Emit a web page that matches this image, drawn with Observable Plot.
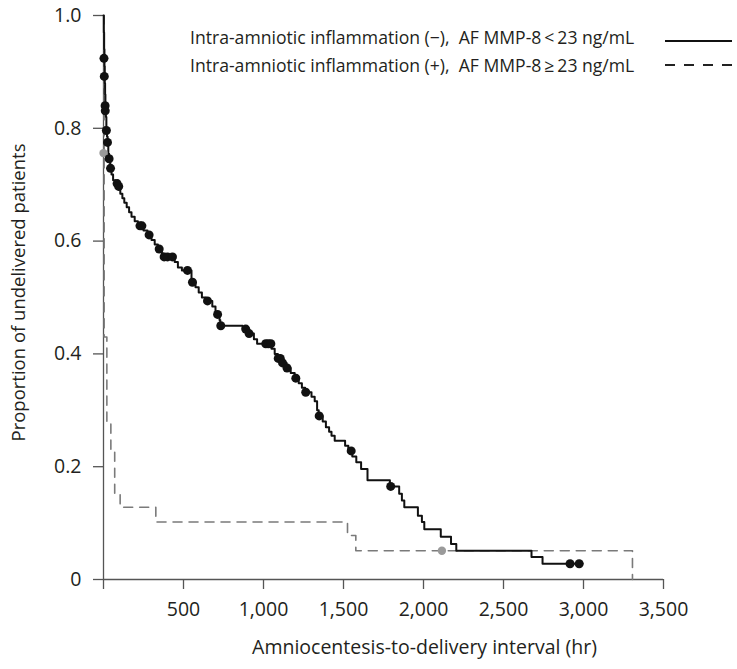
<!DOCTYPE html>
<html>
<head>
<meta charset="utf-8">
<script src="https://cdn.jsdelivr.net/npm/d3@7"></script>
<script src="https://cdn.jsdelivr.net/npm/@observablehq/plot@0.6"></script>
<style>
  html, body { margin: 0; padding: 0; background: #fff; }
  #chart { width: 737px; height: 669px; }
</style>
</head>
<body>
<div id="chart"></div>
<script>
// ---- Data ----
// Intra-amniotic inflammation (−): Kaplan–Meier steps (time in hr, proportion undelivered)
const negTime = [0, 2, 4, 6, 8, 10, 12, 15, 18, 22, 26, 30, 35, 42, 50, 60, 75, 92, 105, 118, 130, 145, 160, 175, 195, 215, 250, 275, 300, 320, 340, 365, 375, 445, 465, 490, 550, 575, 595, 615, 640, 680, 700, 725, 730, 870, 900, 940, 960, 1050, 1070, 1090, 1115, 1145, 1170, 1195, 1220, 1240, 1260, 1300, 1320, 1335, 1345, 1370, 1390, 1410, 1425, 1445, 1510, 1530, 1555, 1580, 1610, 1650, 1790, 1848, 1865, 1880, 1965, 1990, 2005, 2108, 2172, 2205, 2675, 2744, 2994];
const negSurv = [1.0, 0.97, 0.94, 0.91, 0.88, 0.86, 0.84, 0.82, 0.80, 0.785, 0.77, 0.755, 0.74, 0.728, 0.718, 0.708, 0.700, 0.692, 0.684, 0.676, 0.668, 0.660, 0.651, 0.643, 0.635, 0.627, 0.619, 0.611, 0.602, 0.594, 0.586, 0.578, 0.572, 0.563, 0.553, 0.548, 0.527, 0.518, 0.509, 0.500, 0.494, 0.484, 0.470, 0.460, 0.450, 0.444, 0.436, 0.426, 0.418, 0.409, 0.400, 0.392, 0.384, 0.375, 0.366, 0.357, 0.348, 0.340, 0.332, 0.324, 0.316, 0.300, 0.290, 0.280, 0.270, 0.262, 0.255, 0.246, 0.237, 0.228, 0.218, 0.208, 0.196, 0.176, 0.165, 0.152, 0.140, 0.128, 0.113, 0.102, 0.089, 0.076, 0.063, 0.051, 0.040, 0.028, 0.028];
// censored observations (−)
const negCensTime = [3, 5, 10, 11, 18, 25, 35, 44, 85, 95, 228, 240, 285, 348, 379, 400, 431, 525, 556, 650, 713, 733, 889, 910, 1014, 1030, 1046, 1092, 1105, 1119, 1147, 1202, 1264, 1348, 1548, 1795, 2916, 2973];
const negCensSurv = [0.924, 0.892, 0.84, 0.831, 0.796, 0.775, 0.746, 0.729, 0.702, 0.697, 0.627, 0.627, 0.611, 0.586, 0.572, 0.572, 0.572, 0.548, 0.527, 0.494, 0.470, 0.450, 0.444, 0.436, 0.418, 0.418, 0.418, 0.392, 0.392, 0.384, 0.375, 0.357, 0.332, 0.290, 0.228, 0.165, 0.028, 0.028];

// Intra-amniotic inflammation (+)
const posTime = [0, 4, 21, 46, 70, 104, 327, 1525, 1577, 3306];
const posSurv = [1.0, 0.43, 0.277, 0.229, 0.152, 0.128, 0.102, 0.078, 0.051, 0];
const posCensTime = [0, 2115];
const posCensSurv = [0.756, 0.051];

// Axes
const xTicks = [0, 500, 1000, 1500, 2000, 2500, 3000, 3500];
const yTicks = [0, 0.2, 0.4, 0.6, 0.8, 1.0];
const yTickLabels = ["0", "0.2", "0.4", "0.6", "0.8", "1.0"];
const xTitle = "Amniocentesis-to-delivery interval (hr)";
const yTitle = "Proportion of undelivered patients";
const legendLabels = [
  "Intra-amniotic inflammation (\u2212),\u00a0 AF MMP-8\u2009<\u200923 ng/mL",
  "Intra-amniotic inflammation (+),\u00a0 AF MMP-8\u2009\u2265\u200923 ng/mL"
];

// ---- Build tables ----
const neg = negTime.map((t, i) => ({t, s: negSurv[i]}));
const negC = negCensTime.map((t, i) => ({t, s: negCensSurv[i]}));
const pos = posTime.map((t, i) => ({t, s: posSurv[i]}));
const posC = posCensTime.map((t, i) => ({t, s: posCensSurv[i]}));

const axisColor = "#555";
const textColor = "#231f20";

const chart = Plot.plot({
  width: 737,
  height: 669,
  marginLeft: 103,
  marginRight: 74,
  marginTop: 15,
  marginBottom: 90,
  style: {fontFamily: "'Open Sans', sans-serif", fontSize: "19.5px", color: textColor, background: "#fff", overflow: "visible"},
  x: {domain: [0, 3500]},
  y: {domain: [0, 1]},
  marks: [
    Plot.axisX({ticks: xTicks, tickSize: 10, tickPadding: 13, stroke: axisColor, strokeWidth: 1.3,
      tickFormat: d => d === 0 ? "" : d3.format(",")(d), label: null, fill: textColor, fontSize: 19.5}),
    Plot.axisY({ticks: yTicks, tickSize: 10, tickPadding: 12, stroke: axisColor, strokeWidth: 1.3,
      tickFormat: d => yTickLabels[yTicks.indexOf(d)], label: null, fill: textColor, fontSize: 19.5}),
    Plot.ruleX([0], {y1: 0, y2: 1, stroke: axisColor, strokeWidth: 1.3}),
    Plot.ruleY([0], {x1: 0, x2: 3500, stroke: axisColor, strokeWidth: 1.3}),
    // (+) group dashed
    Plot.line(pos, {x: "t", y: "s", curve: "step-after", stroke: "#7a7a7a", strokeWidth: 1.6, strokeDasharray: "9,7"}),
    // (−) group solid
    Plot.line(neg, {x: "t", y: "s", curve: "step-after", stroke: "#111", strokeWidth: 2}),
    Plot.dot(posC, {x: "t", y: "s", r: 4.2, fill: "#9a9a9a"}),
    Plot.dot(negC, {x: "t", y: "s", r: 4.5, fill: "#111"}),
    Plot.text([yTitle], {text: d => d, frameAnchor: "left", rotate: -90, dx: -84, dy: -5, textAnchor: "middle", fill: textColor, fontSize: 18.5}),
    Plot.text([xTitle], {text: d => d, frameAnchor: "bottom", dx: 41, dy: 68, lineAnchor: "middle", fill: textColor, fontSize: 19.5})
  ]
});

document.getElementById("chart").appendChild(chart);

// ---- Legend (inside the SVG, top right) ----
const svg = d3.select(chart);
const lg = svg.append("g").attr("font-family", "'Open Sans', sans-serif").attr("font-size", 17.6)
  .attr("fill", textColor).attr("text-anchor", "start");
lg.append("text").attr("x", 190).attr("y", 44).text(legendLabels[0]);
lg.append("text").attr("x", 190).attr("y", 72).text(legendLabels[1]);
lg.append("line").attr("x1", 665).attr("x2", 732).attr("y1", 41).attr("y2", 41).attr("stroke", "#111").attr("stroke-width", 2);
lg.append("line").attr("x1", 665).attr("x2", 732).attr("y1", 65).attr("y2", 65).attr("stroke", "#222").attr("stroke-width", 2).attr("stroke-dasharray", "10,9");
</script>
</body>
</html>
